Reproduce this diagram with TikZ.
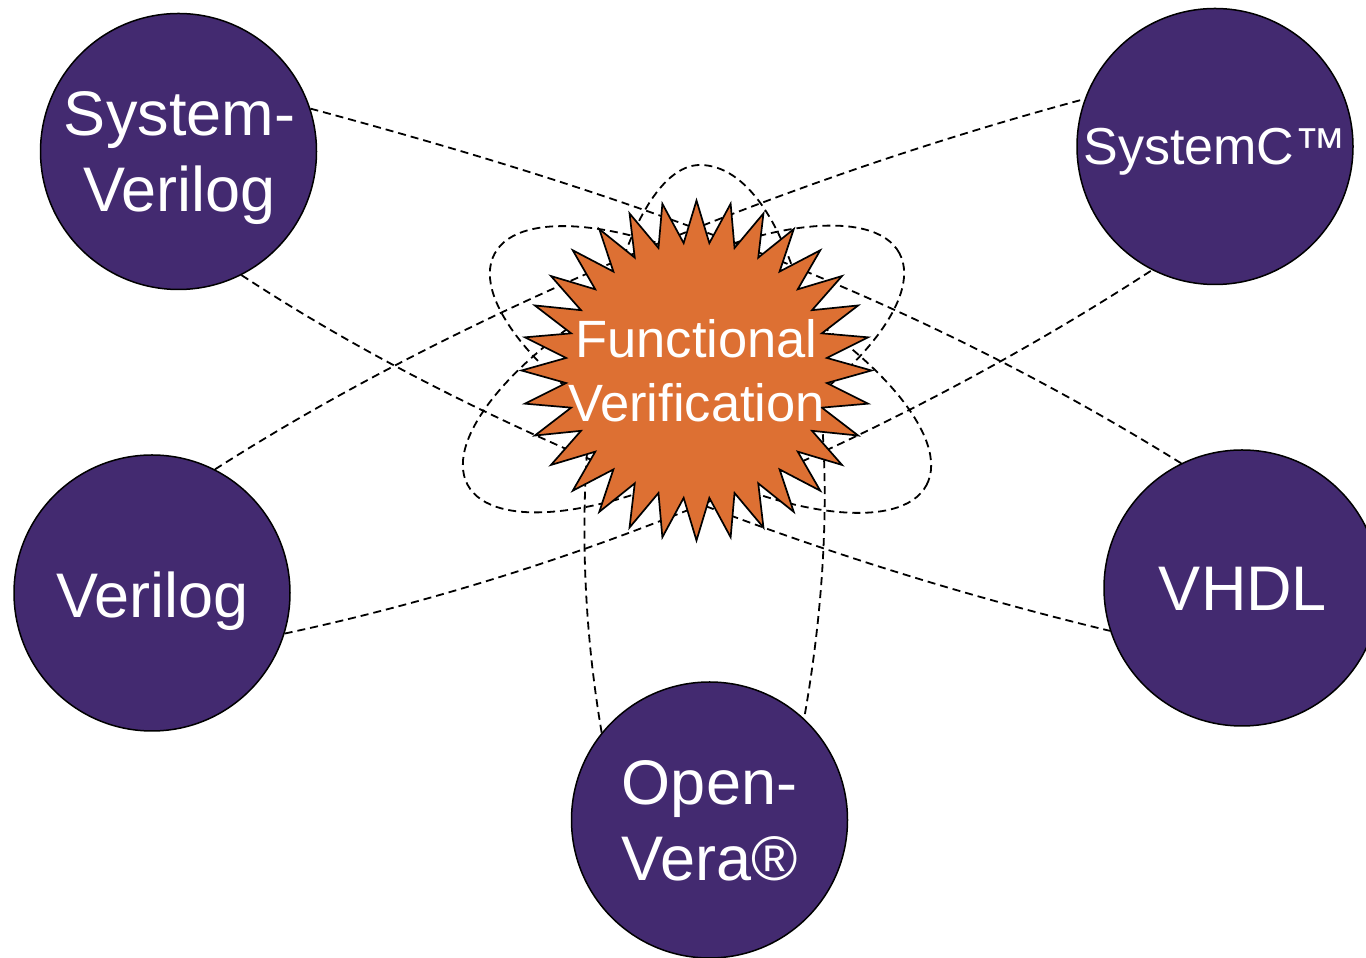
\documentclass[tikz,border=0pt]{standalone}
\usepackage{fontspec}
\setmainfont{Liberation Sans}
\definecolor{bubblefill}{RGB}{67,42,112}
\definecolor{burstfill}{RGB}{221,112,51}
\pgfdeclarelayer{bg}
\pgfsetlayers{bg,main}
\begin{document}
\begin{tikzpicture}[x=1pt,y=1pt,
  bubble/.style={circle, draw=black, line width=1.5pt, fill=bubblefill, minimum size=276pt, inner sep=0pt},
  bubbletext/.style={text=white, align=center, inner sep=0pt, font=\fontsize{63}{76}\selectfont},
  smalltext/.style={text=white, align=center, inner sep=0pt, font=\fontsize{52}{62}\selectfont},
  bursttext/.style={text=white, align=center, inner sep=0pt, font=\fontsize{52.5}{63.7}\selectfont},
  orbit/.style={draw=black, line width=1.8pt, dash pattern=on 8pt off 5pt},
  burst/.style={draw=black, line width=1.7pt, fill=burstfill, line join=miter},
]
\useasboundingbox (0,0) rectangle (1366,958);

% circles
\node[bubble] (sv) at (178.5,806.5) {};
\node[bubble] (sc) at (1215,811.5) {};
\node[bubble] (vl) at (152,365) {};
\node[bubble] (vh) at (1242,370) {};
\node[bubble] (ov) at (709.5,138) {};

\node[bubbletext] (svt) at (179.5,799.5) {System-\\Verilog};
\node[smalltext] (sct) at (1215,806) {SystemC™};
\node[bubbletext] (vlt) at (152.5,356.5) {Verilog};
\node[bubbletext] (vht) at (1243,369) {VHDL};
\node[bubbletext] (ovt) at (709.5,137.5) {Open-\\Vera®};

% central burst
\begin{scope}[shift={(696.5,587.5)}]
\draw[burst] (90:175pt and 170pt)
  \foreach \i in {0,...,31} { -- ({95.625+\i*11.25}:131pt and 128pt) -- ({101.25+\i*11.25}:175pt and 170pt) } -- cycle;
\end{scope}
\node[bursttext] (fv) at (696.5,587.5) {Functional\\Verification};

\coordinate (ovtop) at (700,793);
\coordinate (e1) at (710.5,588.5);
\coordinate (e2) at (683.5,589);

\begin{pgfonlayer}{bg}
\draw[orbit] (sv.18.7) to[out=-15.1, in=148.2, distance=330pt] (vh.116.2);
\draw[orbit] (sv.-63.2) to[out=-33.3, in=166.5, distance=300pt] (vh.198.8);
\draw[orbit] (vl.63.3) to[out=32.6, in=195, distance=300pt] (sc.160.6);
\draw[orbit] (vl.-17.9) to[out=12, in=213, distance=310pt] (sc.-117.4);
\draw[orbit] (ov.141.5) to[out=99.7, in=180, out distance=300pt, in distance=80pt] (ovtop)
  to[out=0, in=80, out distance=90pt, in distance=330pt] (ov.47.4);
\draw[orbit, rotate around={-28.2:(e1)}] (e1) ellipse [x radius=245pt, y radius=96pt];
\draw[orbit, rotate around={28.2:(e2)}] (e2) ellipse [x radius=245pt, y radius=96pt];
\end{pgfonlayer}
\end{tikzpicture}
\end{document}
